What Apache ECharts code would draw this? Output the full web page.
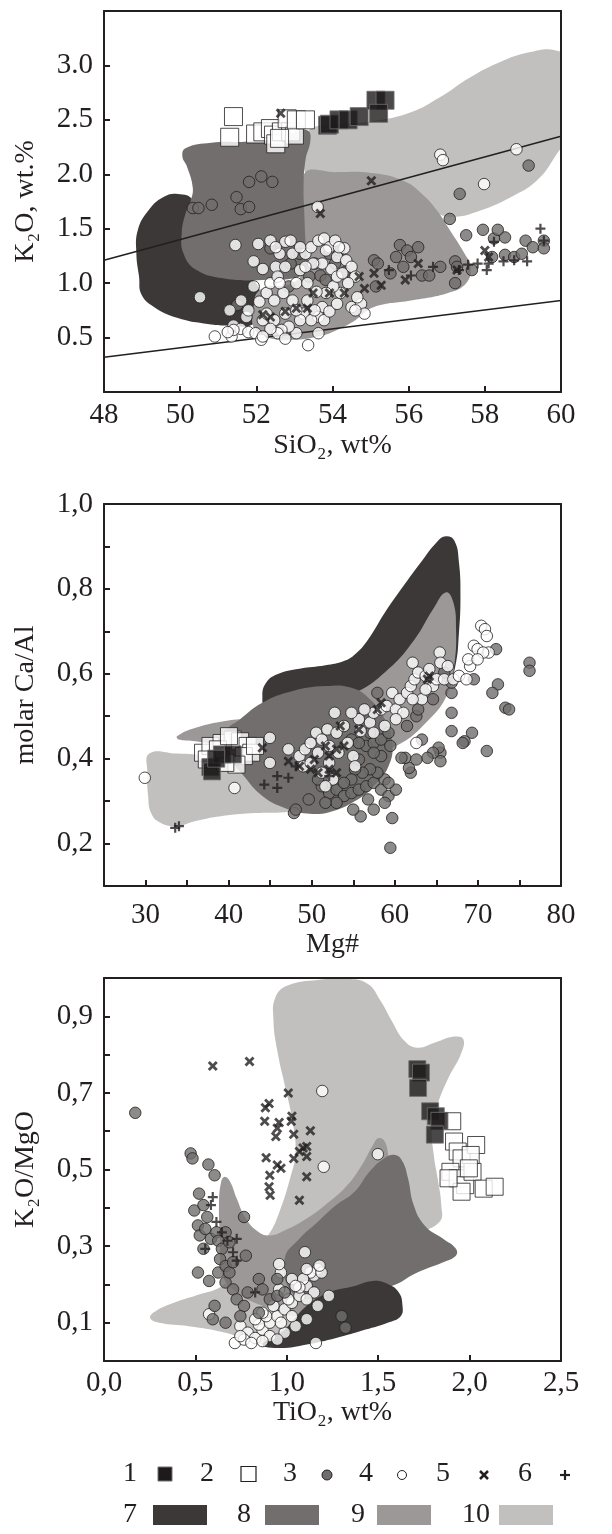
<!DOCTYPE html>
<html><head><meta charset="utf-8">
<script src="https://cdn.jsdelivr.net/npm/echarts@6/dist/echarts.min.js"></script>
<style>html,body{margin:0;padding:0;background:#fff}#c{width:612px;height:1534px}</style>
</head><body><div id="c"></div>
<script>
// ---------------- Plot 1: SiO2 vs K2O ----------------
var p1_xTickLabels = ['48','50','52','54','56','58','60'];
var p1_yTickLabels = ['0.5','1.0','1.5','2.0','2.5','3.0'];
var p1_lineUpper = [[48,1.21],[60,2.35]];
var p1_lineLower = [[48,0.32],[60,0.84]];
var p1_field7 = [[49.94,1.82],[49.55,1.79],[49.17,1.67],[48.89,1.49],[48.85,1.27],[48.92,1.06],[48.99,0.89],[49.36,0.77],[49.94,0.68],[50.62,0.63],[51.3,0.61],[51.9,0.62],[52.05,0.75],[52.0,1.0],[51.2,1.15],[50.43,1.46],[50.33,1.76]];
var p1_field8 = [[50.14,2.24],[50.82,2.29],[51.69,2.30],[52.47,2.32],[53.05,2.39],[53.36,2.40],[53.42,2.31],[53.29,2.13],[53.24,1.88],[53.26,1.64],[53.29,1.39],[53.34,1.15],[53.15,1.06],[52.17,1.03],[51.2,1.04],[50.43,1.12],[50.09,1.27],[50.04,1.46],[50.14,1.64],[50.28,1.76],[50.33,1.88],[50.18,2.07],[50.06,2.16]];
var p1_field9 = [[53.24,1.99],[54.12,2.02],[55.09,2.01],[55.86,1.94],[56.35,1.82],[56.74,1.67],[57.13,1.46],[57.47,1.27],[57.63,1.15],[57.51,1.0],[57.03,0.91],[56.06,0.84],[55.09,0.78],[54.6,0.66],[54.12,0.57],[53.63,0.51],[52.95,0.48],[52.3,0.5],[51.95,0.58],[51.92,0.75],[52.1,0.94],[52.95,1.0],[53.26,1.15]];
var p1_field10 = [[53.34,2.31],[53.44,2.42],[54.12,2.46],[55.09,2.49],[56.06,2.57],[56.83,2.71],[57.61,2.89],[58.39,3.03],[59.17,3.12],[59.84,3.14],[60.2,3.05],[60.2,2.4],[59.84,2.16],[59.36,1.94],[58.68,1.79],[57.9,1.67],[57.22,1.61],[56.74,1.64],[56.06,1.76],[55.09,1.88],[54.12,1.94],[53.34,1.98]];
var p1_s1 = [[53.87,2.45],[53.92,2.46],[54.17,2.5],[54.41,2.5],[54.7,2.53],[55.14,2.68],[55.38,2.68],[55.21,2.56]];
var p1_s2 = [[51.4,2.53],[51.3,2.34],[51.98,2.37],[52.17,2.39],[52.37,2.42],[52.45,2.36],[52.51,2.28],[52.66,2.39],[52.9,2.39],[53.0,2.36],[52.81,2.51],[53.05,2.5],[53.29,2.5],[52.61,2.33]];
var p1_s3 = [[50.33,1.69],[50.48,1.69],[50.83,1.72],[51.48,1.79],[51.59,1.68],[51.81,1.70],[51.81,1.93],[52.13,1.98],[52.42,1.93],
 [57.08,1.59],[57.34,1.82],[59.15,2.08],[57.51,1.44],[57.95,1.49],[58.24,1.41],[58.53,1.42],[59.07,1.39],[59.26,1.33],[59.55,1.39],[59.55,1.32],[55.77,1.35],[55.96,1.30],[56.25,1.33],[55.67,1.24],[56.06,1.24],[55.86,1.15],[55.52,1.09],[55.09,1.21],[55.19,1.18],[55.14,0.97],[56.35,1.07],[56.54,1.07],[56.83,1.15],[57.22,1.20],[57.27,1.15],[57.22,1.0],[57.66,1.12],[58.19,1.24],[58.53,1.26],[58.77,1.24],[58.97,1.27],[58.34,1.49],
 [52.37,1.32],[52.90,1.18],[53.53,1.18],[54.07,1.18],[53.68,1.07],[53.92,1.27],[54.17,1.30],[54.31,1.10],[52.85,0.97],[53.39,1.06],[53.14,1.27],[51.50,0.80],[53.82,1.03]];
var p1_s4 = [[50.52,0.87],[51.45,1.35],[52.05,1.36],[53.61,1.70],[56.83,2.18],[56.9,2.13],[57.98,1.91],[58.83,2.23],[53.36,0.43],[50.91,0.51],[51.35,0.51],[51.30,0.75],[51.93,1.20],
 [51.6,0.84],[51.74,0.69],[51.4,0.61],[51.59,0.58],[51.79,0.55],[51.98,0.54],[52.13,0.48],[52.17,0.66],[52.08,0.83],[52.27,0.91],[52.37,1.0],[52.51,1.15],[52.61,1.27],[52.76,1.38],[52.9,1.39],[52.37,1.39],[52.17,1.13],[52.56,1.06],[52.71,0.91],[52.47,0.84],[52.27,0.72],[52.47,0.66],[52.76,0.72],[52.95,0.84],[53.05,1.0],[53.15,1.12],[53.29,1.27],[53.44,1.33],[53.63,1.39],[53.78,1.41],[53.92,1.33],[54.12,1.24],[54.31,1.32],[54.36,1.21],[54.5,1.15],[54.6,1.06],[54.41,1.0],[54.21,0.91],[54.02,0.97],[53.83,0.91],[53.73,0.78],[53.63,0.69],[53.78,0.66],[53.92,0.74],[54.12,0.81],[54.5,0.78],[54.75,0.81],[54.84,0.72],[54.6,0.75],[53.34,0.84],[53.24,0.72],[53.44,0.66],[53.15,0.66],[53.05,0.54],[52.85,0.6],[52.66,0.57],[53.63,0.54],[52.56,0.54],[51.4,0.57],[51.25,0.55],[51.93,0.97],[51.79,0.75],[52.37,0.58],[53.34,1.0],[53.58,0.92],[53.97,1.13],[53.73,1.18],[53.49,1.18],[53.29,1.15],[52.76,1.15],[52.95,1.27],[53.15,1.33],[52.51,1.33],[52.61,1.0],[52.17,0.51],[52.76,0.49],[54.12,1.06],[54.26,1.09],[54.65,0.87],[53.05,0.75],[53.53,0.75],[53.83,1.3],[54.07,1.39],[54.17,1.33]];
var p1_s5 = [[52.64,2.56],[55.02,1.94],[53.68,1.64],[58.0,1.30],[56.25,1.18],[55.91,1.03],[55.28,0.98],[54.84,0.95],[54.7,1.06],[53.92,0.91],[53.49,0.91],[53.05,0.77],[52.76,0.74],[52.37,0.69],[52.17,0.71],[54.31,0.91],[55.09,1.09],[57.27,1.12],[58.1,1.24],[53.34,0.77]];
var p1_s6 = [[59.46,1.5],[59.55,1.39],[58.24,1.38],[59.11,1.2],[58.77,1.21],[58.49,1.2],[58.05,1.12],[58.1,1.18],[57.81,1.18],[57.56,1.17],[57.32,1.12],[56.06,1.07],[56.64,1.15],[55.48,1.12]];

// ---------------- Plot 2: Mg# vs molar Ca/Al ----------------
var p2_xTickLabels = ['30','40','50','60','70','80'];
var p2_yTickLabels = ['0,2','0,4','0,6','0,8','1,0'];
var p2_field10 = [[30.45,0.412],[33.79,0.412],[37.81,0.409],[41.38,0.414],[44.06,0.418],[46.74,0.375],[48.53,0.327],[49.42,0.28],[46.74,0.274],[43.17,0.272],[39.6,0.266],[36.03,0.253],[33.79,0.241],[31.79,0.249],[30.67,0.272],[30.31,0.312],[30.22,0.367]];
var p2_field9 = [[33.79,0.453],[36.03,0.473],[39.6,0.489],[43.17,0.496],[46.74,0.508],[50.76,0.532],[55.22,0.555],[59.24,0.611],[62.37,0.681],[64.6,0.752],[66.16,0.792],[67.05,0.768],[67.37,0.705],[67.19,0.626],[66.38,0.555],[64.15,0.493],[60.13,0.43],[55.22,0.406],[49.42,0.406],[44.06,0.414],[39.6,0.43],[36.03,0.441],[34.02,0.445]];
var p2_field7 = [[44.06,0.548],[44.51,0.579],[45.85,0.599],[48.53,0.612],[51.65,0.62],[53.88,0.63],[55.22,0.646],[56.79,0.681],[58.79,0.744],[61.03,0.807],[63.26,0.866],[65.04,0.91],[66.16,0.924],[67.19,0.913],[67.72,0.862],[67.9,0.784],[67.72,0.697],[67.28,0.618],[66.16,0.555],[62.81,0.508],[57.46,0.477],[52.1,0.461],[46.74,0.473],[44.51,0.508]];
var p2_field8 = [[39.6,0.461],[41.38,0.493],[44.06,0.532],[47.63,0.559],[51.65,0.571],[54.78,0.567],[57.01,0.54],[58.79,0.493],[59.69,0.437],[59.24,0.382],[57.46,0.335],[55.22,0.3],[52.1,0.274],[49.42,0.271],[46.74,0.284],[44.06,0.312],[41.83,0.359],[40.04,0.406]];
var p2_s1 = [[37.8,0.38],[38.0,0.37],[39.2,0.41],[40.5,0.41],[38.5,0.4]];
var p2_s2 = [[36.92,0.414],[37.81,0.43],[39.15,0.437],[40.49,0.445],[41.38,0.441],[42.28,0.43],[42.72,0.414],[41.83,0.406],[40.94,0.386],[39.6,0.39],[38.71,0.422],[37.37,0.398],[43.17,0.43],[40.04,0.453]];
var p2_s3 = [[76.21,0.626],[76.21,0.607],[72.19,0.658],[72.41,0.575],[71.74,0.555],[73.3,0.52],[73.75,0.516],[71.07,0.418],[69.29,0.461],[69.51,0.587],[68.39,0.441],[68.17,0.437],[66.83,0.465],[66.83,0.508],[65.49,0.414],[65.49,0.394],[65.27,0.426],[64.6,0.414],[63.93,0.402],[63.26,0.445],[61.92,0.367],[61.7,0.378],[61.25,0.402],[60.8,0.402],[62.59,0.398],[59.46,0.19],[59.69,0.26],[55.89,0.264],[47.86,0.272],[48.08,0.28],[49.64,0.304],[57.9,0.555],[62.59,0.5],[65.94,0.603],
 [51.21,0.335],[52.1,0.319],[52.99,0.327],[53.88,0.312],[54.78,0.319],[55.67,0.327],[56.56,0.335],[57.46,0.343],[58.35,0.327],[59.24,0.312],[60.13,0.327],[58.79,0.351],[57.9,0.367],[57.01,0.375],[56.12,0.367],[55.22,0.375],[54.78,0.351],[53.88,0.343],[54.99,0.28],[56.78,0.304],[57.46,0.28],[58.79,0.296],[55.67,0.398],[56.56,0.43],[57.46,0.437],[58.35,0.445],[59.24,0.461],[57.01,0.461],[58.35,0.406],[59.46,0.43],[52.99,0.296],[51.65,0.296],[50.76,0.351],[54.78,0.445],[55.67,0.437],[57.46,0.414],[59.24,0.343],[61.47,0.477],[62.81,0.516],[64.6,0.54],[66.83,0.555],[66.83,0.579]];
var p2_s4 = [[29.91,0.355],[40.71,0.331],[44.96,0.39],[44.96,0.449],[47.19,0.422],[62.59,0.437],
 [48.53,0.406],[49.2,0.422],[48.97,0.382],[49.87,0.437],[49.87,0.39],[50.54,0.461],[50.76,0.414],[51.21,0.445],[51.21,0.367],[51.88,0.469],[52.1,0.43],[52.1,0.39],[52.77,0.508],[52.99,0.461],[53.21,0.414],[53.88,0.477],[54.33,0.437],[55.0,0.406],[55.67,0.493],[55.89,0.465],[57.01,0.485],[57.46,0.508],[58.35,0.516],[59.02,0.524],[59.69,0.555],[60.13,0.516],[60.58,0.54],[61.03,0.508],[61.47,0.555],[61.92,0.571],[62.14,0.626],[62.37,0.587],[62.81,0.603],[63.26,0.54],[63.71,0.595],[64.15,0.611],[64.6,0.571],[65.04,0.587],[65.4,0.65],[65.49,0.626],[65.94,0.587],[66.38,0.618],[67.05,0.587],[67.72,0.595],[68.62,0.587],[69.06,0.618],[68.84,0.634],[69.51,0.666],[69.96,0.658],[70.4,0.713],[70.85,0.705],[71.07,0.689],[71.29,0.65],[70.63,0.65],[69.96,0.634],[57.46,0.461],[58.79,0.477],[60.13,0.493],[56.34,0.516],[54.78,0.508],[55.22,0.382],[52.54,0.351],[51.65,0.335],[63.71,0.563],[62.14,0.54]];
var p2_s5 = [[44.06,0.426],[47.19,0.394],[48.53,0.382],[49.87,0.375],[50.76,0.367],[51.65,0.43],[52.1,0.406],[52.99,0.422],[53.88,0.43],[53.43,0.477],[55.67,0.469],[57.9,0.516],[58.35,0.532],[63.93,0.587],[64.15,0.595],[50.31,0.398],[52.1,0.375],[52.99,0.367]];
var p2_s6 = [[33.57,0.237],[34.02,0.241],[44.29,0.339],[45.85,0.359],[45.85,0.331],[47.19,0.355],[48.08,0.382],[52.1,0.359]];

// ---------------- Plot 3: TiO2 vs K2O/MgO ----------------
var p3_xTickLabels = ['0,0','0,5','1,0','1,5','2,0','2,5'];
var p3_yTickLabels = ['0,1','0,3','0,5','0,7','0,9'];
var p3_field10 = [[0.252,0.113],[0.282,0.13],[0.383,0.152],[0.524,0.174],[0.645,0.196],[0.78,0.26],[0.9,0.33],[0.96,0.39],[1.018,0.477],[1.048,0.547],[1.028,0.634],[0.988,0.722],[0.948,0.81],[0.927,0.889],[0.938,0.95],[1.008,0.981],[1.169,0.995],[1.331,0.998],[1.442,0.985],[1.512,0.941],[1.573,0.889],[1.643,0.836],[1.714,0.818],[1.815,0.832],[1.915,0.847],[1.966,0.84],[1.952,0.801],[1.885,0.74],[1.825,0.67],[1.794,0.608],[1.804,0.538],[1.825,0.477],[1.845,0.407],[1.835,0.363],[1.673,0.319],[1.573,0.231],[1.472,0.1],[1.27,0.065],[1.069,0.047],[0.867,0.043],[0.665,0.074],[0.464,0.091],[0.302,0.1]];
var p3_field9 = [[0.645,0.231],[0.635,0.319],[0.629,0.407],[0.641,0.468],[0.661,0.481],[0.69,0.468],[0.726,0.424],[0.776,0.372],[0.847,0.336],[0.907,0.328],[0.988,0.341],[1.109,0.372],[1.23,0.415],[1.331,0.459],[1.411,0.512],[1.472,0.564],[1.502,0.582],[1.536,0.573],[1.56,0.53],[1.6,0.48],[1.65,0.42],[1.67,0.3],[1.57,0.21],[1.27,0.144],[1.069,0.117],[0.867,0.144],[0.706,0.187]];
var p3_field8 = [[0.988,0.266],[1.069,0.319],[1.169,0.363],[1.27,0.407],[1.371,0.442],[1.452,0.494],[1.532,0.529],[1.593,0.538],[1.633,0.521],[1.663,0.477],[1.694,0.407],[1.754,0.354],[1.855,0.319],[1.925,0.293],[1.925,0.275],[1.855,0.258],[1.714,0.231],[1.573,0.196],[1.371,0.179],[1.169,0.161],[1.028,0.179]];
var p3_field7 = [[0.867,0.043],[0.988,0.082],[1.109,0.144],[1.23,0.179],[1.371,0.196],[1.472,0.209],[1.552,0.201],[1.613,0.179],[1.633,0.144],[1.623,0.117],[1.552,0.1],[1.431,0.082],[1.27,0.06],[1.109,0.043],[0.968,0.034]];
var p3_s1 = [[1.714,0.762],[1.734,0.753],[1.718,0.713],[1.784,0.652],[1.815,0.639],[1.835,0.627],[1.81,0.591]];
var p3_s2 = [[1.905,0.626],[1.915,0.573],[1.935,0.547],[1.956,0.529],[1.895,0.494],[1.935,0.477],[1.976,0.459],[2.016,0.494],[2.036,0.564],[2.006,0.538],[2.077,0.45],[2.137,0.455],[1.956,0.442],[1.996,0.503],[1.885,0.477]];
var p3_s3 = [[0.171,0.648],[0.474,0.542],[0.484,0.529],[0.571,0.513],[0.605,0.485],[0.52,0.437],[0.494,0.393],[0.544,0.407],[0.565,0.376],[0.514,0.354],[0.524,0.328],[0.554,0.345],[0.585,0.319],[0.615,0.336],[0.625,0.314],[0.645,0.293],[0.665,0.336],[0.686,0.31],[0.766,0.376],[0.776,0.275],[0.635,0.266],[0.544,0.293],[0.514,0.231],[0.575,0.209],[0.625,0.231],[0.665,0.205],[0.706,0.187],[0.726,0.161],[0.766,0.144],[0.605,0.144],[0.595,0.109],[0.665,0.1],[0.746,0.117],[0.786,0.179],[0.847,0.214],[0.867,0.187],[0.907,0.161],[0.847,0.126],[0.948,0.17],[0.988,0.179],[0.948,0.214],[1.3,0.117],[1.321,0.087],[0.665,0.248],[0.686,0.231],[0.706,0.258]];
var p3_s4 = [[1.194,0.705],[1.498,0.54],[1.202,0.507],[1.099,0.284],[0.716,0.047],[1.159,0.047],[1.23,0.17],[0.575,0.122],[0.746,0.091],[0.786,0.074],[0.827,0.06],[0.867,0.082],[0.907,0.1],[0.948,0.117],[0.988,0.135],[1.028,0.152],[1.069,0.17],[1.109,0.196],[1.149,0.223],[1.169,0.24],[1.129,0.231],[1.089,0.214],[1.069,0.192],[1.028,0.214],[0.968,0.231],[0.958,0.253],[0.988,0.179],[0.927,0.144],[0.887,0.117],[0.847,0.095],[0.766,0.056],[0.806,0.047],[0.907,0.065],[0.988,0.074],[1.048,0.091],[1.109,0.109],[1.169,0.144],[1.028,0.117],[0.968,0.1],[0.867,0.126],[0.827,0.109],[1.149,0.179],[1.19,0.231],[1.179,0.249],[1.109,0.24],[0.948,0.056],[0.867,0.052],[0.746,0.065],[1.109,0.161],[1.008,0.161],[1.048,0.196],[0.958,0.187]];
var p3_s5 = [[0.595,0.77],[0.796,0.782],[1.008,0.7],[0.903,0.672],[0.883,0.661],[0.879,0.626],[0.958,0.623],[0.948,0.608],[1.028,0.639],[1.024,0.626],[1.038,0.592],[1.129,0.601],[0.94,0.586],[0.887,0.531],[0.948,0.512],[0.968,0.503],[0.907,0.485],[1.038,0.529],[1.069,0.547],[1.109,0.56],[1.109,0.534],[1.109,0.481],[0.903,0.455],[0.909,0.433],[1.069,0.42],[1.089,0.556]];
var p3_s6 = [[0.595,0.428],[0.585,0.407],[0.615,0.363],[0.645,0.336],[0.675,0.314],[0.726,0.319],[0.706,0.284],[0.726,0.262],[0.554,0.293],[0.827,0.179]];

var legendMarkerNames = ['1','2','3','4','5','6'];
var legendFieldNames = ['7','8','9','10'];

// ---------------- styles ----------------
var FONT = '"Liberation Serif","Times New Roman",serif';
var FS = 29;
var INK = '#231f20';
var FIELD_COLOR = {'7':'#3b3837','8':'#716e6d','9':'#9b9897','10':'#c1c0bf'};
var CROSS = 'path://M0,2L2,0L5,3L8,0L10,2L7,5L10,8L8,10L5,7L2,10L0,8L3,5Z';
var PLUS = 'path://M3.9,0H6.1V3.9H10V6.1H6.1V10H3.9V6.1H0V3.9H3.9Z';
var MARKERS = {
  '1': {symbol:'rect', size:17, itemStyle:{color:'#1e1a1b', borderColor:'#707070', borderWidth:1}},
  '2': {symbol:'rect', size:17, itemStyle:{color:'#ffffff', borderColor:INK, borderWidth:1}},
  '3': {symbol:'circle', size:11.5, itemStyle:{color:'#706d6d', borderColor:INK, borderWidth:1}},
  '4': {symbol:'circle', size:11.5, itemStyle:{color:'#ffffff', borderColor:INK, borderWidth:1}},
  '5': {symbol:CROSS, size:10, itemStyle:{color:INK}},
  '6': {symbol:PLUS, size:10, itemStyle:{color:INK}}
};

function labelFormatter(list) {
  return function (v) {
    for (var i = 0; i < list.length; i++) {
      if (Math.abs(parseFloat(list[i].replace(',', '.')) - v) < 1e-6) return list[i];
    }
    return '';
  };
}

var grids = [
  {left:104, top:11, width:457, height:381},
  {left:104, top:504, width:457, height:382},
  {left:104, top:978, width:457, height:383}
];
var xAxes = [], yAxes = [];
function addAxes(gi, x, y) {
  var lineStyle = {color:INK, width:2};
  var txt = {fontFamily:FONT, fontSize:28, color:INK};
  xAxes.push({gridIndex:gi, type:'value', min:x.min, max:x.max, interval:x.interval, position:'bottom', z:10,
    axisLine:{show:true, onZero:false, lineStyle:lineStyle},
    axisTick:{show:true, inside:true, length:6, lineStyle:lineStyle},
    axisLabel:{formatter:labelFormatter(x.labels), color:INK, fontFamily:FONT, fontSize:FS, margin:x.margin},
    splitLine:{show:false},
    name:x.name, nameLocation:'middle', nameGap:x.nameGap, nameTextStyle:txt});
  xAxes.push({gridIndex:gi, type:'value', min:x.min, max:x.max, position:'top', z:10,
    axisLine:{show:true, onZero:false, lineStyle:lineStyle}, axisTick:{show:false}, axisLabel:{show:false}, splitLine:{show:false}});
  yAxes.push({gridIndex:gi, type:'value', min:y.min, max:y.max, interval:y.interval, position:'left', z:10,
    axisLine:{show:true, onZero:false, lineStyle:lineStyle},
    axisTick:{show:true, inside:true, length:6, lineStyle:lineStyle},
    axisLabel:{formatter:labelFormatter(y.labels), color:INK, fontFamily:FONT, fontSize:FS, margin:11},
    splitLine:{show:false},
    name:y.name, nameLocation:'middle', nameGap:y.nameGap, nameTextStyle:txt});
  yAxes.push({gridIndex:gi, type:'value', min:y.min, max:y.max, position:'right', z:10,
    axisLine:{show:true, onZero:false, lineStyle:lineStyle}, axisTick:{show:false}, axisLabel:{show:false}, splitLine:{show:false}});
}
addAxes(0, {min:48, max:60, interval:2, labels:p1_xTickLabels, margin:9, name:'SiO\u2082, wt%', nameGap:40},
           {min:0, max:3.5, interval:0.5, labels:p1_yTickLabels, name:'K\u2082O, wt.%', nameGap:64});
addAxes(1, {min:25, max:80, interval:5, labels:p2_xTickLabels, margin:15, name:'Mg#', nameGap:45},
           {min:0.1, max:1.0, interval:0.1, labels:p2_yTickLabels, name:'molar Ca/Al', nameGap:64});
addAxes(2, {min:0, max:2.5, interval:0.5, labels:p3_xTickLabels, margin:8, name:'TiO\u2082, wt%', nameGap:37},
           {min:0, max:1.0, interval:0.1, labels:p3_yTickLabels, name:'K\u2082O/MgO', nameGap:64});

var series = [];
function fieldSeries(gi, name, pts) {
  series.push({type:'custom', name:name, xAxisIndex:gi*2, yAxisIndex:gi*2, data:pts, clip:true, silent:true, z:1,
    encode:{x:0, y:1},
    renderItem:function (params, api) {
      if (params.dataIndex !== 0) return null;
      var points = pts.map(function (p) { return api.coord(p); });
      return {type:'polygon', shape:{points:points, smooth:0.45}, style:{fill:FIELD_COLOR[name]}};
    }});
}
function lineSeries(gi, pts) {
  series.push({type:'line', xAxisIndex:gi*2, yAxisIndex:gi*2, data:pts, symbol:'none', silent:true, z:2,
    lineStyle:{color:INK, width:1.5}});
}
function markerSeries(gi, name, pts, sizeOverride) {
  var m = MARKERS[name];
  series.push({type:'scatter', name:name, xAxisIndex:gi*2, yAxisIndex:gi*2, data:pts, symbol:m.symbol,
    symbolSize:sizeOverride || m.size, itemStyle:m.itemStyle, silent:true, z:3});
}
// plot 1
fieldSeries(0, '10', p1_field10); fieldSeries(0, '7', p1_field7); fieldSeries(0, '9', p1_field9); fieldSeries(0, '8', p1_field8);
lineSeries(0, p1_lineUpper); lineSeries(0, p1_lineLower);
markerSeries(0, '3', p1_s3); markerSeries(0, '4', p1_s4); markerSeries(0, '2', p1_s2, 18); markerSeries(0, '1', p1_s1, 18); markerSeries(0, '5', p1_s5); markerSeries(0, '6', p1_s6);
// plot 2
fieldSeries(1, '10', p2_field10); fieldSeries(1, '7', p2_field7); fieldSeries(1, '9', p2_field9); fieldSeries(1, '8', p2_field8);
markerSeries(1, '3', p2_s3); markerSeries(1, '4', p2_s4); markerSeries(1, '2', p2_s2); markerSeries(1, '1', p2_s1); markerSeries(1, '5', p2_s5); markerSeries(1, '6', p2_s6);
// plot 3
fieldSeries(2, '10', p3_field10); fieldSeries(2, '9', p3_field9); fieldSeries(2, '8', p3_field8); fieldSeries(2, '7', p3_field7);
markerSeries(2, '4', p3_s4); markerSeries(2, '3', p3_s3); markerSeries(2, '2', p3_s2); markerSeries(2, '1', p3_s1); markerSeries(2, '5', p3_s5); markerSeries(2, '6', p3_s6);

// ---------------- legend (drawn as graphic) ----------------
var gfx = [];
function gText(t, x, y) {
  gfx.push({type:'text', x:x, y:y, style:{text:t, font:'28px ' + FONT, fill:INK, align:'center', verticalAlign:'middle'}});
}
var row1 = 1474, row2 = 1515;
var r1x = [130, 207, 290, 366, 443, 525];
legendMarkerNames.forEach(function (n, i) { gText(n, r1x[i], row1); });
gfx.push({type:'rect', shape:{x:158, y:row1 - 7, width:14, height:14}, style:{fill:'#1e1a1b', stroke:'#707070', lineWidth:1}});
gfx.push({type:'rect', shape:{x:241, y:row1 - 7.5, width:15, height:15}, style:{fill:'#fff', stroke:INK, lineWidth:1.2}});
gfx.push({type:'circle', shape:{cx:327, cy:row1 + 1, r:5}, style:{fill:'#706d6d', stroke:INK, lineWidth:1}});
gfx.push({type:'circle', shape:{cx:402, cy:row1 + 1, r:4.5}, style:{fill:'#fff', stroke:INK, lineWidth:1}});
gfx.push({type:'line', shape:{x1:480, y1:row1 - 3, x2:488, y2:row1 + 5}, style:{stroke:INK, lineWidth:2.5}});
gfx.push({type:'line', shape:{x1:488, y1:row1 - 3, x2:480, y2:row1 + 5}, style:{stroke:INK, lineWidth:2.5}});
gfx.push({type:'line', shape:{x1:560, y1:row1 + 1, x2:570, y2:row1 + 1}, style:{stroke:INK, lineWidth:2.2}});
gfx.push({type:'line', shape:{x1:565, y1:row1 - 4, x2:565, y2:row1 + 6}, style:{stroke:INK, lineWidth:2.2}});
var r2x = [130, 244, 358, 476];
var r2rect = [153, 265, 377, 499];
legendFieldNames.forEach(function (n, i) {
  gText(n, r2x[i], row2);
  gfx.push({type:'rect', shape:{x:r2rect[i], y:row2 - 10, width:54, height:20}, style:{fill:FIELD_COLOR[n]}});
});

var chart = echarts.init(document.getElementById('c'), null, {renderer:'canvas'});
chart.setOption({
  animation:false,
  backgroundColor:'#ffffff',
  grid:grids.map(function (g) { return Object.assign({outerBoundsMode:'none', containLabel:false}, g); }),
  xAxis:xAxes,
  yAxis:yAxes,
  series:series,
  graphic:gfx
});
</script>
</body></html>
